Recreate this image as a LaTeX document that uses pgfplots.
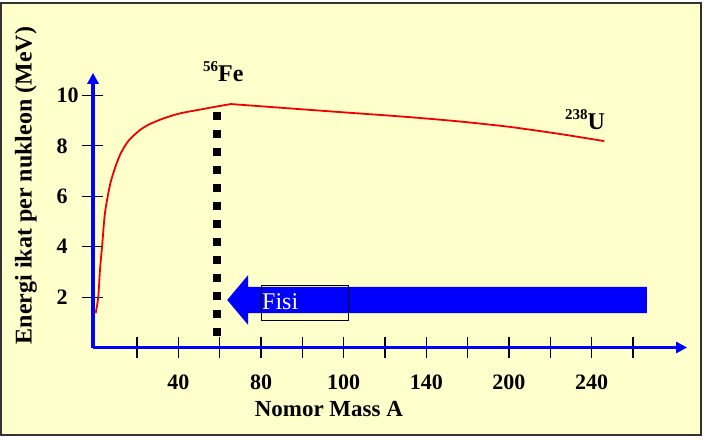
\documentclass[border=0pt]{standalone}
\usepackage{pgfplots}
\pgfplotsset{compat=1.18}
\usetikzlibrary{arrows.meta}
\usepackage{fontspec}
\setmainfont{Liberation Serif}
\definecolor{bgyellow}{RGB}{255,255,204}
\definecolor{axblue}{RGB}{0,0,255}
\definecolor{curvered}{RGB}{240,0,0}
\begin{document}
\begin{tikzpicture}
\path[use as bounding box] (-93pt,-92.5pt) rectangle (615pt,347.5pt);
\fill[white] (-93pt,-92.5pt) rectangle (615pt,347.5pt);
\filldraw[fill=bgyellow, draw=black!80, line width=2pt] (-92pt,-87.5pt) rectangle (608pt,344.5pt);
\begin{axis}[
  at={(0pt,0pt)}, anchor=south west,
  scale only axis, width=594.1pt, height=274.7pt,
  xmin=-0.065, xmax=14.31, ymin=0, ymax=10.9,
  axis lines=left,
  axis line style={axblue, line width=3.2pt, -{Triangle[length=11pt,width=11pt]}},
  xtick={1,2,3,4,5,6,7,8,9,10,11,12,13},
  xticklabels={,40,,80,,100,,140,,200,,240,},
  ytick={2,4,6,8,10},
  tick align=center, major tick length=21pt,
  tick style={black, line width=1.2pt},
  tick label style={font=\fontsize{22}{22}\selectfont\bfseries, inner sep=0pt},
  /pgf/number format/assume math mode=true,
  xticklabel style={anchor=base, yshift=-31pt},
  yticklabel style={anchor=west, xshift=-26pt},
  clip=false,
  xlabel={Nomor Mass A},
  ylabel={Energi ikat per nukleon (MeV)},
  every axis x label/.style={at={(axis description cs:0.397,-0.252)}, anchor=base, font=\fontsize{23}{23}\selectfont\bfseries},
  every axis y label/.style={at={(axis description cs:-0.1032,0.590)}, anchor=base, rotate=90, font=\fontsize{24}{24}\selectfont\bfseries},
]
% binding energy curve (rising part)
\addplot[curvered, line width=1.8pt, smooth, tension=0.5] coordinates {
  (0.000,1.36) (0.063,2.02) (0.104,3.08) (0.160,4.11) (0.225,5.34)
  (0.346,6.45) (0.467,7.12) (0.588,7.64) (0.709,8.00) (0.830,8.27)
  (1.072,8.63) (1.314,8.87) (1.677,9.11) (2.040,9.29) (2.524,9.44)
  (2.886,9.55) (3.273,9.66)
};
% falling part
\addplot[curvered, line width=1.8pt, smooth, tension=0.5] coordinates {
  (3.273,9.66) (5.669,9.37) (7.362,9.17) (8.669,8.99) (9.782,8.80)
  (10.266,8.70) (11.282,8.46) (12.306,8.19)
};
% dotted line at 56Fe
\addplot[black, line width=8pt, dash pattern=on 8pt off 10pt] coordinates {
  (2.935,9.345) (2.935,0.456)
};
% fission arrow
\addplot[fill=axblue, draw=none] coordinates {
  (3.182,1.885) (3.690,2.877) (3.690,2.401) (13.339,2.401)
  (13.339,1.369) (3.690,1.369) (3.690,0.893) (3.182,1.885)
};
\addplot[black, line width=1pt] coordinates {
  (4.0,2.48) (6.128,2.48) (6.128,1.071) (4.0,1.071) (4.0,2.48)
};
\node[anchor=base west, inner sep=0pt, text=white, font=\fontsize{24}{24}\selectfont] at (axis cs:4.024,1.516) {Fisi};
\node[anchor=base west, inner sep=0pt, font=\fontsize{24}{24}\selectfont\bfseries] at (axis cs:2.596,10.536) {\raisebox{10pt}{\fontsize{15}{15}\selectfont\bfseries 56}Fe};
\node[anchor=base west, inner sep=0pt, font=\fontsize{24}{24}\selectfont\bfseries] at (axis cs:11.355,8.631) {\raisebox{10pt}{\fontsize{15}{15}\selectfont\bfseries 238}U};
\end{axis}
\end{tikzpicture}
\end{document}
